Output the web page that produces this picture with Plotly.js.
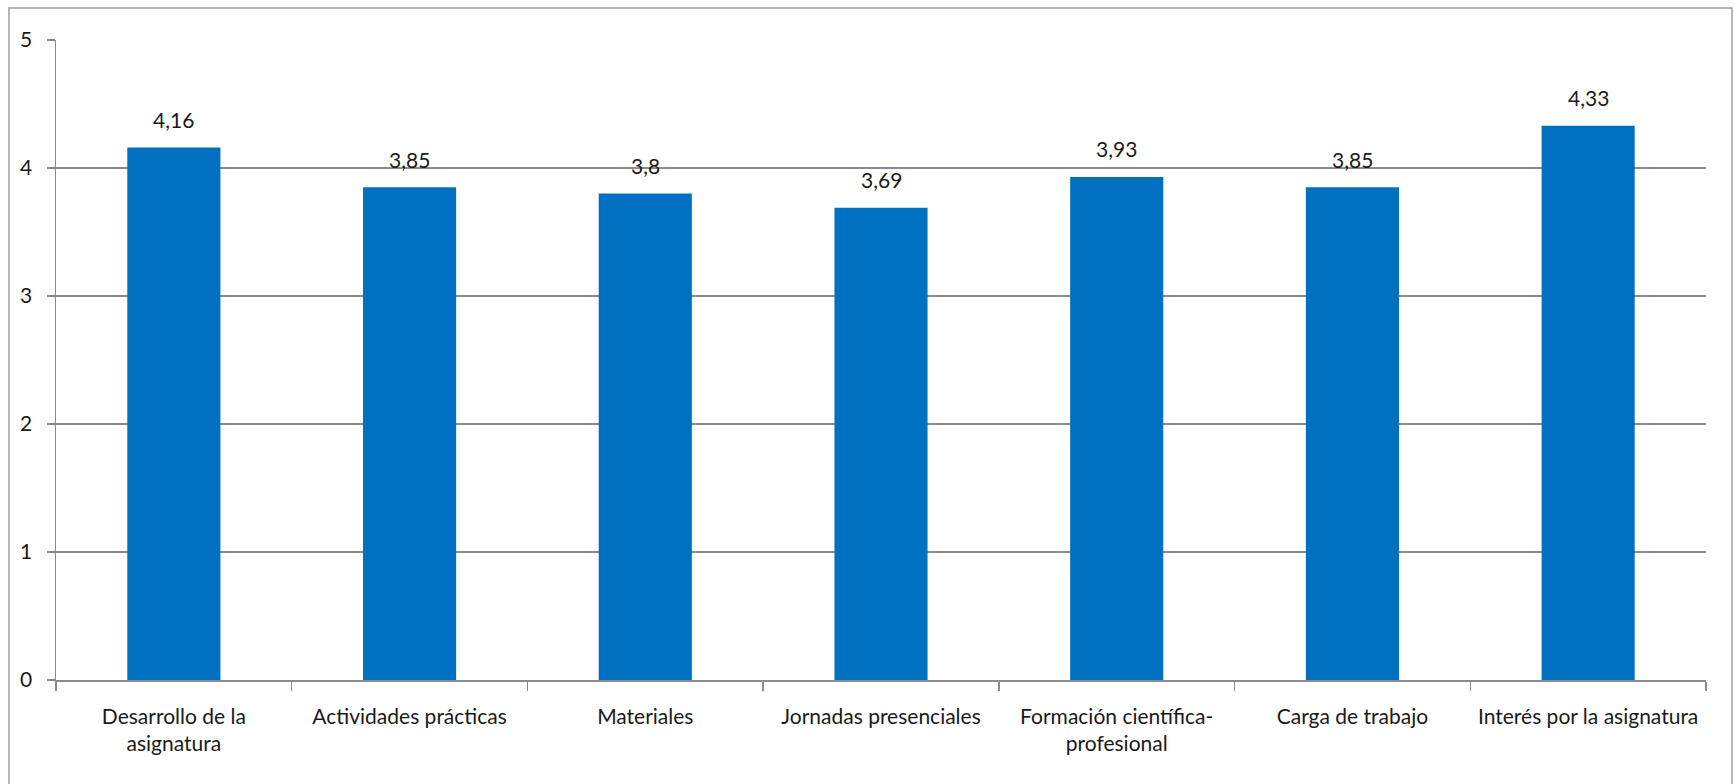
<!DOCTYPE html>
<html>
<head>
<meta charset="utf-8">
<script src="https://cdn.plot.ly/plotly-3.0.1.min.js"></script>
<style>html,body{margin:0;padding:0;background:#fff;}#chart{width:1735px;height:784px;}</style>
</head>
<body>
<div id="chart"></div>
<script>
const categories = [
  "Desarrollo de la<br>asignatura",
  "Actividades prácticas",
  "Materiales",
  "Jornadas presenciales",
  "Formación científica-<br>profesional",
  "Carga de trabajo",
  "Interés por la asignatura"
];
const values = [4.16, 3.85, 3.8, 3.69, 3.93, 3.85, 4.33];
const yTicks = [0, 1, 2, 3, 4, 5];

const FONT = "Lato, 'Open Sans', sans-serif";
const W = 1735, H = 784;
const mL = 56, mR = 29, mT = 40, mB = 104;
const pw = W - mL - mR, ph = H - mT - mB;

const trace = {
  type: "bar",
  x: categories,
  y: values,
  marker: {color: "#0070C0"},
  hoverinfo: "x+y"
};

const annotations = values.map((v, i) => ({
  x: categories[i],
  y: v,
  xref: "x",
  yref: "y",
  text: String(v).replace(".", ","),
  showarrow: false,
  yanchor: "middle",
  yshift: 28,
  font: {family: FONT, size: 21, color: "#1a1a1a"}
}));

const layout = {
  width: W,
  height: H,
  margin: {l: mL, r: mR, t: mT, b: mB},
  paper_bgcolor: "#ffffff",
  plot_bgcolor: "#ffffff",
  showlegend: false,
  bargap: 0.605,
  font: {family: FONT, size: 21, color: "#1a1a1a"},
  xaxis: {
    type: "category",
    showline: true,
    linecolor: "#8c8c8c",
    linewidth: 1.5,
    ticks: "outside",
    tickson: "boundaries",
    ticklen: 9,
    tickcolor: "#8c8c8c",
    tickwidth: 1.5,
    ticklabelstandoff: 17,
    tickangle: 0,
    tickfont: {family: FONT, size: 21, color: "#1a1a1a"},
    showgrid: false,
    automargin: false
  },
  yaxis: {
    range: [0, 5],
    tickvals: yTicks,
    ticktext: yTicks.map(String),
    showline: true,
    linecolor: "#8c8c8c",
    linewidth: 1.5,
    ticks: "outside",
    ticklen: 8,
    tickcolor: "#8c8c8c",
    tickwidth: 1.5,
    ticklabelstandoff: 10,
    showgrid: true,
    gridcolor: "#8c8c8c",
    gridwidth: 1.5,
    zeroline: false,
    tickfont: {family: FONT, size: 21, color: "#1a1a1a"},
    automargin: false
  },
  annotations: annotations,
  shapes: [{
    type: "rect",
    xref: "paper",
    yref: "paper",
    x0: (9 - mL) / pw,
    x1: (1732 - mL) / pw,
    y0: (H - mB - 800) / ph,
    y1: (H - mB - 8) / ph,
    line: {color: "#a0a0a0", width: 1.5},
    fillcolor: "rgba(0,0,0,0)",
    layer: "below"
  }]
};

Plotly.newPlot("chart", [trace], layout, {staticPlot: true, displayModeBar: false});
</script>
</body>
</html>
